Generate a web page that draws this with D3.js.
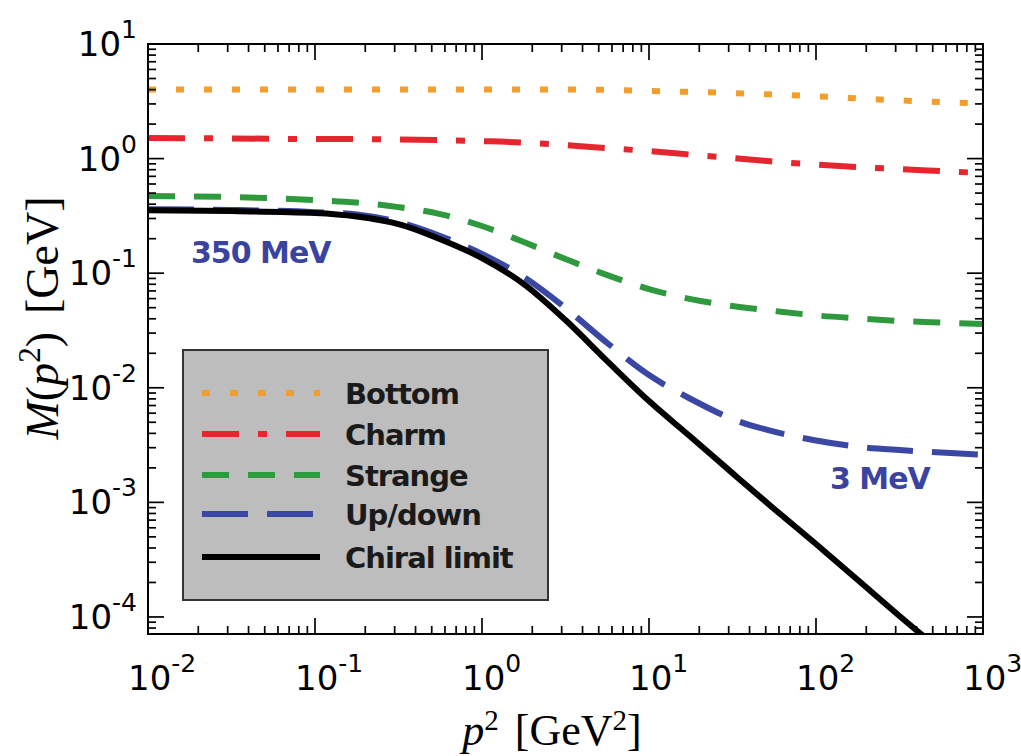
<!DOCTYPE html>
<html><head><meta charset="utf-8">
<script src="https://cdn.jsdelivr.net/npm/d3@7"></script>
<style>body{margin:0;background:#fff}svg{display:block}</style>
</head><body>
<svg id="c" width="1021" height="756"></svg>
<script>
// ---- data ----
const p2 = [0.01, 0.0316, 0.1, 0.178, 0.316, 0.562, 1, 1.78, 3.16, 5.62, 10, 17.8, 31.6, 56.2, 100, 178, 316, 562, 1000];
const bottom  = [4.00, 4.00, 4.00, 4.00, 4.00, 4.00, 4.00, 4.00, 4.00, 3.98, 3.89, 3.82, 3.73, 3.62, 3.50, 3.35, 3.22, 3.11, 3.02];
const charm   = [1.51, 1.50, 1.48, 1.48, 1.47, 1.45, 1.42, 1.38, 1.31, 1.235, 1.163, 1.084, 1.010, 0.941, 0.886, 0.843, 0.810, 0.778, 0.747];
const strange = [0.471, 0.462, 0.434, 0.413, 0.377, 0.328, 0.258, 0.187, 0.133, 0.0962, 0.0726, 0.0594, 0.0517, 0.0468, 0.0428, 0.0403, 0.0383, 0.0371, 0.0360];
const updown  = [0.362, 0.356, 0.341, 0.325, 0.279, 0.211, 0.147, 0.0925, 0.0497, 0.0246, 0.0129, 0.00798, 0.00533, 0.00414, 0.00347, 0.00306, 0.00286, 0.00272, 0.00261];
const chiral  = [0.355, 0.348, 0.335, 0.312, 0.268, 0.198, 0.1355, 0.0803, 0.0390, 0.0171, 0.00766, 0.00372, 0.00180, 0.000875, 0.000433, 0.000210, 0.000102, 0.0000505, 0.0000249];
const seriesNames = ["Bottom", "Charm", "Strange", "Up/down", "Chiral limit"];
const xTickExp = [-2, -1, 0, 1, 2, 3];
const yTickExp = [-4, -3, -2, -1, 0, 1];
const annotations = ["350 MeV", "3 MeV"];

const styles = [
  {color:"#f29d2c", dash:"8,20"},
  {color:"#e4262f", dash:"37,19,9,19"},
  {color:"#2e9a3d", dash:"27,19"},
  {color:"#3a47a4", dash:"46,19"},
  {color:"#000000", dash:null}
];
const seriesVals = [bottom, charm, strange, updown, chiral];

const svg = d3.select("#c");
const L = 148, R = 983, T = 44, B = 634;
const x = d3.scaleLog().domain([0.01, 1000]).range([L, R]);
const y = d3.scaleLog().domain([7.1e-5, 10]).range([B, T]);

svg.append("clipPath").attr("id","clip").append("rect")
  .attr("x", L).attr("y", T).attr("width", R-L).attr("height", B-T);

const line = d3.line().x(d=>x(d[0])).y(d=>y(d[1])).curve(d3.curveMonotoneX);
const g = svg.append("g").attr("clip-path","url(#clip)");
seriesVals.forEach((vals,i)=>{
  g.append("path").datum(p2.map((p,j)=>[p, vals[j]]))
    .attr("d", line).attr("fill","none")
    .attr("stroke", styles[i].color).attr("stroke-width", 6)
    .attr("stroke-dasharray", styles[i].dash);
});

// ticks (inward, all four sides)
const xMinor = [], yMinor = [];
for (let e=-2; e<3; e++) for (let m=2; m<10; m++) xMinor.push(m*Math.pow(10,e));
for (let e=-5; e<1; e++) for (let m=2; m<10; m++) { const v=m*Math.pow(10,e); if (v>=7.1e-5 && v<=10) yMinor.push(v); }
const tk = svg.append("g").attr("stroke","#000").attr("stroke-width",1.7);
xTickExp.forEach(e=>{ const v=Math.pow(10,e), px=x(v);
  tk.append("line").attr("x1",px).attr("x2",px).attr("y1",B).attr("y2",B-16);
  tk.append("line").attr("x1",px).attr("x2",px).attr("y1",T).attr("y2",T+16); });
xMinor.forEach(v=>{ const px=x(v);
  tk.append("line").attr("x1",px).attr("x2",px).attr("y1",B).attr("y2",B-8);
  tk.append("line").attr("x1",px).attr("x2",px).attr("y1",T).attr("y2",T+8); });
yTickExp.forEach(e=>{ const v=Math.pow(10,e), py=y(v);
  tk.append("line").attr("y1",py).attr("y2",py).attr("x1",L).attr("x2",L+16);
  tk.append("line").attr("y1",py).attr("y2",py).attr("x1",R).attr("x2",R-16); });
yMinor.forEach(v=>{ const py=y(v);
  tk.append("line").attr("y1",py).attr("y2",py).attr("x1",L).attr("x2",L+8);
  tk.append("line").attr("y1",py).attr("y2",py).attr("x1",R).attr("x2",R-8); });

svg.append("rect").attr("x",L).attr("y",T).attr("width",R-L).attr("height",B-T)
  .attr("fill","none").attr("stroke","#000").attr("stroke-width",2);

// tick labels
const lf = "DejaVu Sans, sans-serif";
xTickExp.forEach(e=>{
  const t = svg.append("text").attr("x", x(Math.pow(10,e))-20).attr("y", 690)
    .attr("font-family", lf).attr("font-size", 34).attr("fill","#000");
  t.append("tspan").text("10");
  t.append("tspan").attr("dy",-18).attr("font-size",25).text(String(e));
});
yTickExp.forEach(e=>{
  const t = svg.append("text").attr("x", 137).attr("y", y(Math.pow(10,e))+12)
    .attr("text-anchor","end").attr("font-family", lf).attr("font-size", 34).attr("fill","#000");
  t.append("tspan").text("10");
  t.append("tspan").attr("dy",-18).attr("font-size",25).text(String(e));
});

// axis titles
const sf = "Liberation Serif, DejaVu Serif, serif";
const xt = svg.append("text").attr("x", 552).attr("y", 745).attr("text-anchor","middle")
  .attr("font-family", sf).attr("font-size", 44).attr("fill","#000");
xt.append("tspan").attr("font-style","italic").text("p");
xt.append("tspan").attr("dy",-15).attr("font-size",29).text("2");
xt.append("tspan").attr("dy",15).attr("dx",16).text("[GeV");
xt.append("tspan").attr("dy",-15).attr("font-size",29).text("2");
xt.append("tspan").attr("dy",15).text("]");

const yt = svg.append("text").attr("transform","translate(58,318) rotate(-90)").attr("text-anchor","middle")
  .attr("font-family", sf).attr("font-size", 46).attr("fill","#000");
yt.append("tspan").attr("font-style","italic").text("M");
yt.append("tspan").text("(");
yt.append("tspan").attr("font-style","italic").text("p");
yt.append("tspan").attr("dy",-18).attr("font-size",31).text("2");
yt.append("tspan").attr("dy",18).text(")");
yt.append("tspan").attr("dx",18).text("[GeV]");

// legend
const lg = svg.append("g");
lg.append("rect").attr("x",183).attr("y",350).attr("width",365).attr("height",250)
  .attr("fill","#bdbdbd").attr("stroke","#333").attr("stroke-width",2);
const rows = [393, 434, 475, 514, 557];
seriesNames.forEach((n,i)=>{
  lg.append("line").attr("x1",202).attr("x2",320).attr("y1",rows[i]).attr("y2",rows[i])
    .attr("stroke",styles[i].color).attr("stroke-width",6).attr("stroke-dasharray",styles[i].dash);
  lg.append("text").attr("x",345).attr("y",rows[i]+11).text(n)
    .attr("font-family",lf).attr("font-weight","bold").attr("font-size",29)
    .attr("letter-spacing",-1).attr("fill","#1a1a1a");
});

// annotations
svg.append("text").attr("x",191).attr("y",263).text(annotations[0])
  .attr("font-family",lf).attr("font-weight","bold").attr("font-size",30)
  .attr("letter-spacing",-1).attr("fill","#3a44a0");
svg.append("text").attr("x",830).attr("y",489).text(annotations[1])
  .attr("font-family",lf).attr("font-weight","bold").attr("font-size",30)
  .attr("letter-spacing",-1).attr("fill","#3a44a0");
</script>
</body></html>
